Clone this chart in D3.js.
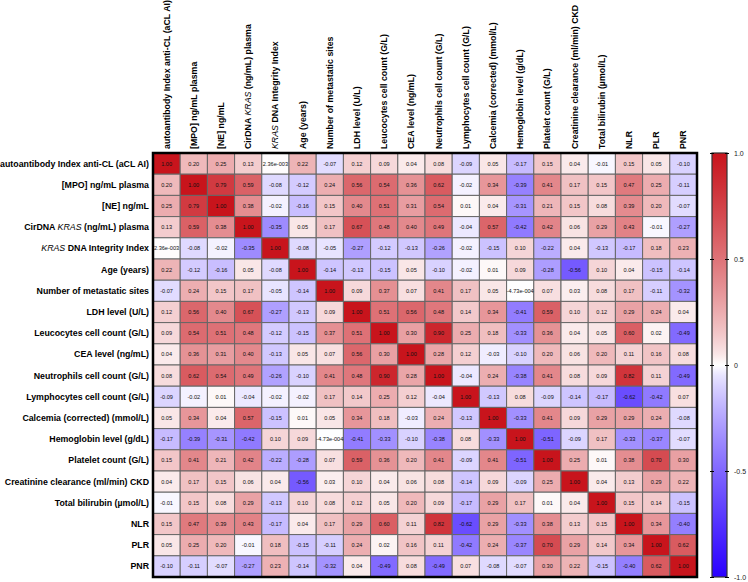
<!DOCTYPE html>
<html><head><meta charset="utf-8">
<script src="https://cdn.jsdelivr.net/npm/d3@7"></script>
<style>
body{margin:0;background:#fff;}
text{font-family:"Liberation Sans",Arial,Helvetica,sans-serif;}
</style>
</head><body>
<svg id="chart" width="748" height="582"></svg>
<script>
const variables = [
  "autoantibody Index anti-CL (aCL AI)",
  "[MPO] ng/mL plasma",
  "[NE] ng/mL",
  "CirDNA KRAS (ng/mL) plasma",
  "KRAS DNA Integrity Index",
  "Age (years)",
  "Number of metastatic sites",
  "LDH level (U/L)",
  "Leucocytes cell count (G/L)",
  "CEA level (ng/mL)",
  "Neutrophils cell count (G/L)",
  "Lymphocytes cell count (G/L)",
  "Calcemia (corrected) (mmol/L)",
  "Hemoglobin level (g/dL)",
  "Platelet count (G/L)",
  "Creatinine clearance (ml/min) CKD",
  "Total bilirubin (µmol/L)",
  "NLR",
  "PLR",
  "PNR"
];
const italicWord = "KRAS";

const correlations = [
  [1.00, 0.20, 0.25, 0.13, 0.00236, 0.22, -0.07, 0.12, 0.09, 0.04, 0.08, -0.09, 0.05, -0.17, 0.15, 0.04, -0.01, 0.15, 0.05, -0.10],
  [0.20, 1.00, 0.79, 0.59, -0.08, -0.12, 0.24, 0.56, 0.54, 0.36, 0.62, -0.02, 0.34, -0.39, 0.41, 0.17, 0.15, 0.47, 0.25, -0.11],
  [0.25, 0.79, 1.00, 0.38, -0.02, -0.16, 0.15, 0.40, 0.51, 0.31, 0.54, 0.01, 0.04, -0.31, 0.21, 0.15, 0.08, 0.39, 0.20, -0.07],
  [0.13, 0.59, 0.38, 1.00, -0.35, 0.05, 0.17, 0.67, 0.48, 0.40, 0.49, -0.04, 0.57, -0.42, 0.42, 0.06, 0.29, 0.43, -0.01, -0.27],
  [0.00236, -0.08, -0.02, -0.35, 1.00, -0.08, -0.05, -0.27, -0.12, -0.13, -0.26, -0.02, -0.15, 0.10, -0.22, 0.04, -0.13, -0.17, 0.18, 0.23],
  [0.22, -0.12, -0.16, 0.05, -0.08, 1.00, -0.14, -0.13, -0.15, 0.05, -0.10, -0.02, 0.01, 0.09, -0.28, -0.56, 0.10, 0.04, -0.15, -0.14],
  [-0.07, 0.24, 0.15, 0.17, -0.05, -0.14, 1.00, 0.09, 0.37, 0.07, 0.41, 0.17, 0.05, -0.000473, 0.07, 0.03, 0.08, 0.17, -0.11, -0.32],
  [0.12, 0.56, 0.40, 0.67, -0.27, -0.13, 0.09, 1.00, 0.51, 0.56, 0.48, 0.14, 0.34, -0.41, 0.59, 0.10, 0.12, 0.29, 0.24, 0.04],
  [0.09, 0.54, 0.51, 0.48, -0.12, -0.15, 0.37, 0.51, 1.00, 0.30, 0.90, 0.25, 0.18, -0.33, 0.36, 0.04, 0.05, 0.60, 0.02, -0.49],
  [0.04, 0.36, 0.31, 0.40, -0.13, 0.05, 0.07, 0.56, 0.30, 1.00, 0.28, 0.12, -0.03, -0.10, 0.20, 0.06, 0.20, 0.11, 0.16, 0.08],
  [0.08, 0.62, 0.54, 0.49, -0.26, -0.10, 0.41, 0.48, 0.90, 0.28, 1.00, -0.04, 0.24, -0.38, 0.41, 0.08, 0.09, 0.82, 0.11, -0.49],
  [-0.09, -0.02, 0.01, -0.04, -0.02, -0.02, 0.17, 0.14, 0.25, 0.12, -0.04, 1.00, -0.13, 0.08, -0.09, -0.14, -0.17, -0.62, -0.42, 0.07],
  [0.05, 0.34, 0.04, 0.57, -0.15, 0.01, 0.05, 0.34, 0.18, -0.03, 0.24, -0.13, 1.00, -0.33, 0.41, 0.09, 0.29, 0.29, 0.24, -0.08],
  [-0.17, -0.39, -0.31, -0.42, 0.10, 0.09, -0.000473, -0.41, -0.33, -0.10, -0.38, 0.08, -0.33, 1.00, -0.51, -0.09, 0.17, -0.33, -0.37, -0.07],
  [0.15, 0.41, 0.21, 0.42, -0.22, -0.28, 0.07, 0.59, 0.36, 0.20, 0.41, -0.09, 0.41, -0.51, 1.00, 0.25, 0.01, 0.38, 0.70, 0.30],
  [0.04, 0.17, 0.15, 0.06, 0.04, -0.56, 0.03, 0.10, 0.04, 0.06, 0.08, -0.14, 0.09, -0.09, 0.25, 1.00, 0.04, 0.13, 0.29, 0.22],
  [-0.01, 0.15, 0.08, 0.29, -0.13, 0.10, 0.08, 0.12, 0.05, 0.20, 0.09, -0.17, 0.29, 0.17, 0.01, 0.04, 1.00, 0.15, 0.14, -0.15],
  [0.15, 0.47, 0.39, 0.43, -0.17, 0.04, 0.17, 0.29, 0.60, 0.11, 0.82, -0.62, 0.29, -0.33, 0.38, 0.13, 0.15, 1.00, 0.34, -0.40],
  [0.05, 0.25, 0.20, -0.01, 0.18, -0.15, -0.11, 0.24, 0.02, 0.16, 0.11, -0.42, 0.24, -0.37, 0.70, 0.29, 0.14, 0.34, 1.00, 0.62],
  [-0.10, -0.11, -0.07, -0.27, 0.23, -0.14, -0.32, 0.04, -0.49, 0.08, -0.49, 0.07, -0.08, -0.07, 0.30, 0.22, -0.15, -0.40, 0.62, 1.00]
];

const colorDomain = [-1, 0, 1];
const colorRange = ["#2a00ff", "#ffffff", "#c8141c"];
const colorTicks = [1.0, 0.5, 0, -0.5, -1.0];
const colorTickLabels = ["1.0", "0.5", "0", "-0.5", "-1.0"];

const svg = d3.select("#chart");
const grid = {left: 153, top: 153, right: 697, bottom: 577};
const n = variables.length;

const x = d3.scaleBand().domain(d3.range(n)).range([grid.left, grid.right]);
const y = d3.scaleBand().domain(d3.range(n)).range([grid.top, grid.bottom]);
const color = d3.scaleDivergingPow().exponent(0.75).domain(colorDomain)
  .interpolator(d3.piecewise(d3.interpolateRgb, colorRange)).clamp(true);

function fmt(v) {
  if (v !== 0 && Math.abs(v) < 0.005) {
    const s = v.toExponential(2);
    return s.replace(/e([+-])(\d+)$/, (m, sg, d) => "e" + sg + d.padStart(3, "0"));
  }
  return v.toFixed(2);
}

function addLabel(sel, label) {
  const parts = label.split(italicWord);
  parts.forEach((p, i) => {
    if (i > 0) sel.append("tspan").attr("font-style", "italic").attr("font-weight", "normal").text(italicWord);
    if (p.length) sel.append("tspan").text(p);
  });
}

const cells = [];
correlations.forEach((row, i) => row.forEach((v, j) => cells.push({i, j, v})));

const g = svg.append("g");
g.selectAll("rect.cell").data(cells).join("rect")
  .attr("class", "cell")
  .attr("x", d => x(d.j)).attr("y", d => y(d.i))
  .attr("width", x.bandwidth()).attr("height", y.bandwidth())
  .attr("fill", d => color(d.v))
  .attr("stroke", "#666").attr("stroke-width", 1);

g.selectAll("text.val").data(cells).join("text")
  .attr("class", "val")
  .attr("x", d => x(d.j) + x.bandwidth() / 2)
  .attr("y", d => y(d.i) + y.bandwidth() / 2)
  .attr("text-anchor", "middle").attr("dominant-baseline", "central")
  .attr("font-size", "5.6px").attr("fill", "#111")
  .text(d => fmt(d.v));

svg.append("rect")
  .attr("x", grid.left).attr("y", grid.top)
  .attr("width", grid.right - grid.left).attr("height", grid.bottom - grid.top)
  .attr("fill", "none").attr("stroke", "#000").attr("stroke-width", 2.5);

// Row labels
svg.selectAll("text.rowlab").data(variables).join("text")
  .attr("class", "rowlab")
  .attr("x", grid.left - 4)
  .attr("y", (d, i) => y(i) + y.bandwidth() / 2)
  .attr("text-anchor", "end").attr("dominant-baseline", "central")
  .attr("font-size", "8.8px").attr("font-weight", "bold").attr("fill", "#000")
  .each(function(d) { addLabel(d3.select(this), d); });

// Column labels
svg.selectAll("text.collab").data(variables).join("text")
  .attr("class", "collab")
  .attr("transform", (d, i) => `translate(${x(i) + x.bandwidth() / 2},${grid.top - 4}) rotate(-90)`)
  .attr("text-anchor", "start").attr("dominant-baseline", "central")
  .attr("font-size", "8.8px").attr("font-weight", "bold").attr("fill", "#000")
  .each(function(d) { addLabel(d3.select(this), d); });

// Color bar
const bar = {x: 712, w: 15};
const yc = d3.scaleLinear().domain([-1, 1]).range([grid.bottom, grid.top]);
const defs = svg.append("defs");
const grad = defs.append("linearGradient").attr("id", "cbar")
  .attr("x1", 0).attr("y1", 1).attr("x2", 0).attr("y2", 0);
d3.range(-1, 1.0001, 0.05).forEach(v => {
  grad.append("stop").attr("offset", (v + 1) / 2).attr("stop-color", color(v));
});
svg.append("rect")
  .attr("x", bar.x).attr("y", yc(1)).attr("width", bar.w).attr("height", yc(-1) - yc(1))
  .attr("fill", "url(#cbar)").attr("stroke", "#333").attr("stroke-width", 1.2);

const axisR = d3.axisRight(yc).tickValues(colorTicks)
  .tickFormat((d, i) => colorTickLabels[i]).tickSize(3).tickPadding(4);
const ax = svg.append("g").attr("transform", `translate(${bar.x + bar.w},0)`).call(axisR);
ax.select(".domain").remove();
ax.selectAll(".tick line").attr("x1", -2).attr("x2", 2).attr("stroke", "#000");
ax.selectAll(".tick text").attr("font-size", "7px").attr("fill", "#222")
  .attr("font-family", "Liberation Sans, Arial, sans-serif");
const axisL = d3.axisLeft(yc).tickValues(colorTicks).tickFormat("").tickSize(0);
const axl = svg.append("g").attr("transform", `translate(${bar.x},0)`).call(axisL);
axl.select(".domain").remove();
axl.selectAll(".tick line").attr("x1", -2).attr("x2", 2).attr("stroke", "#000");
</script>
</body></html>
